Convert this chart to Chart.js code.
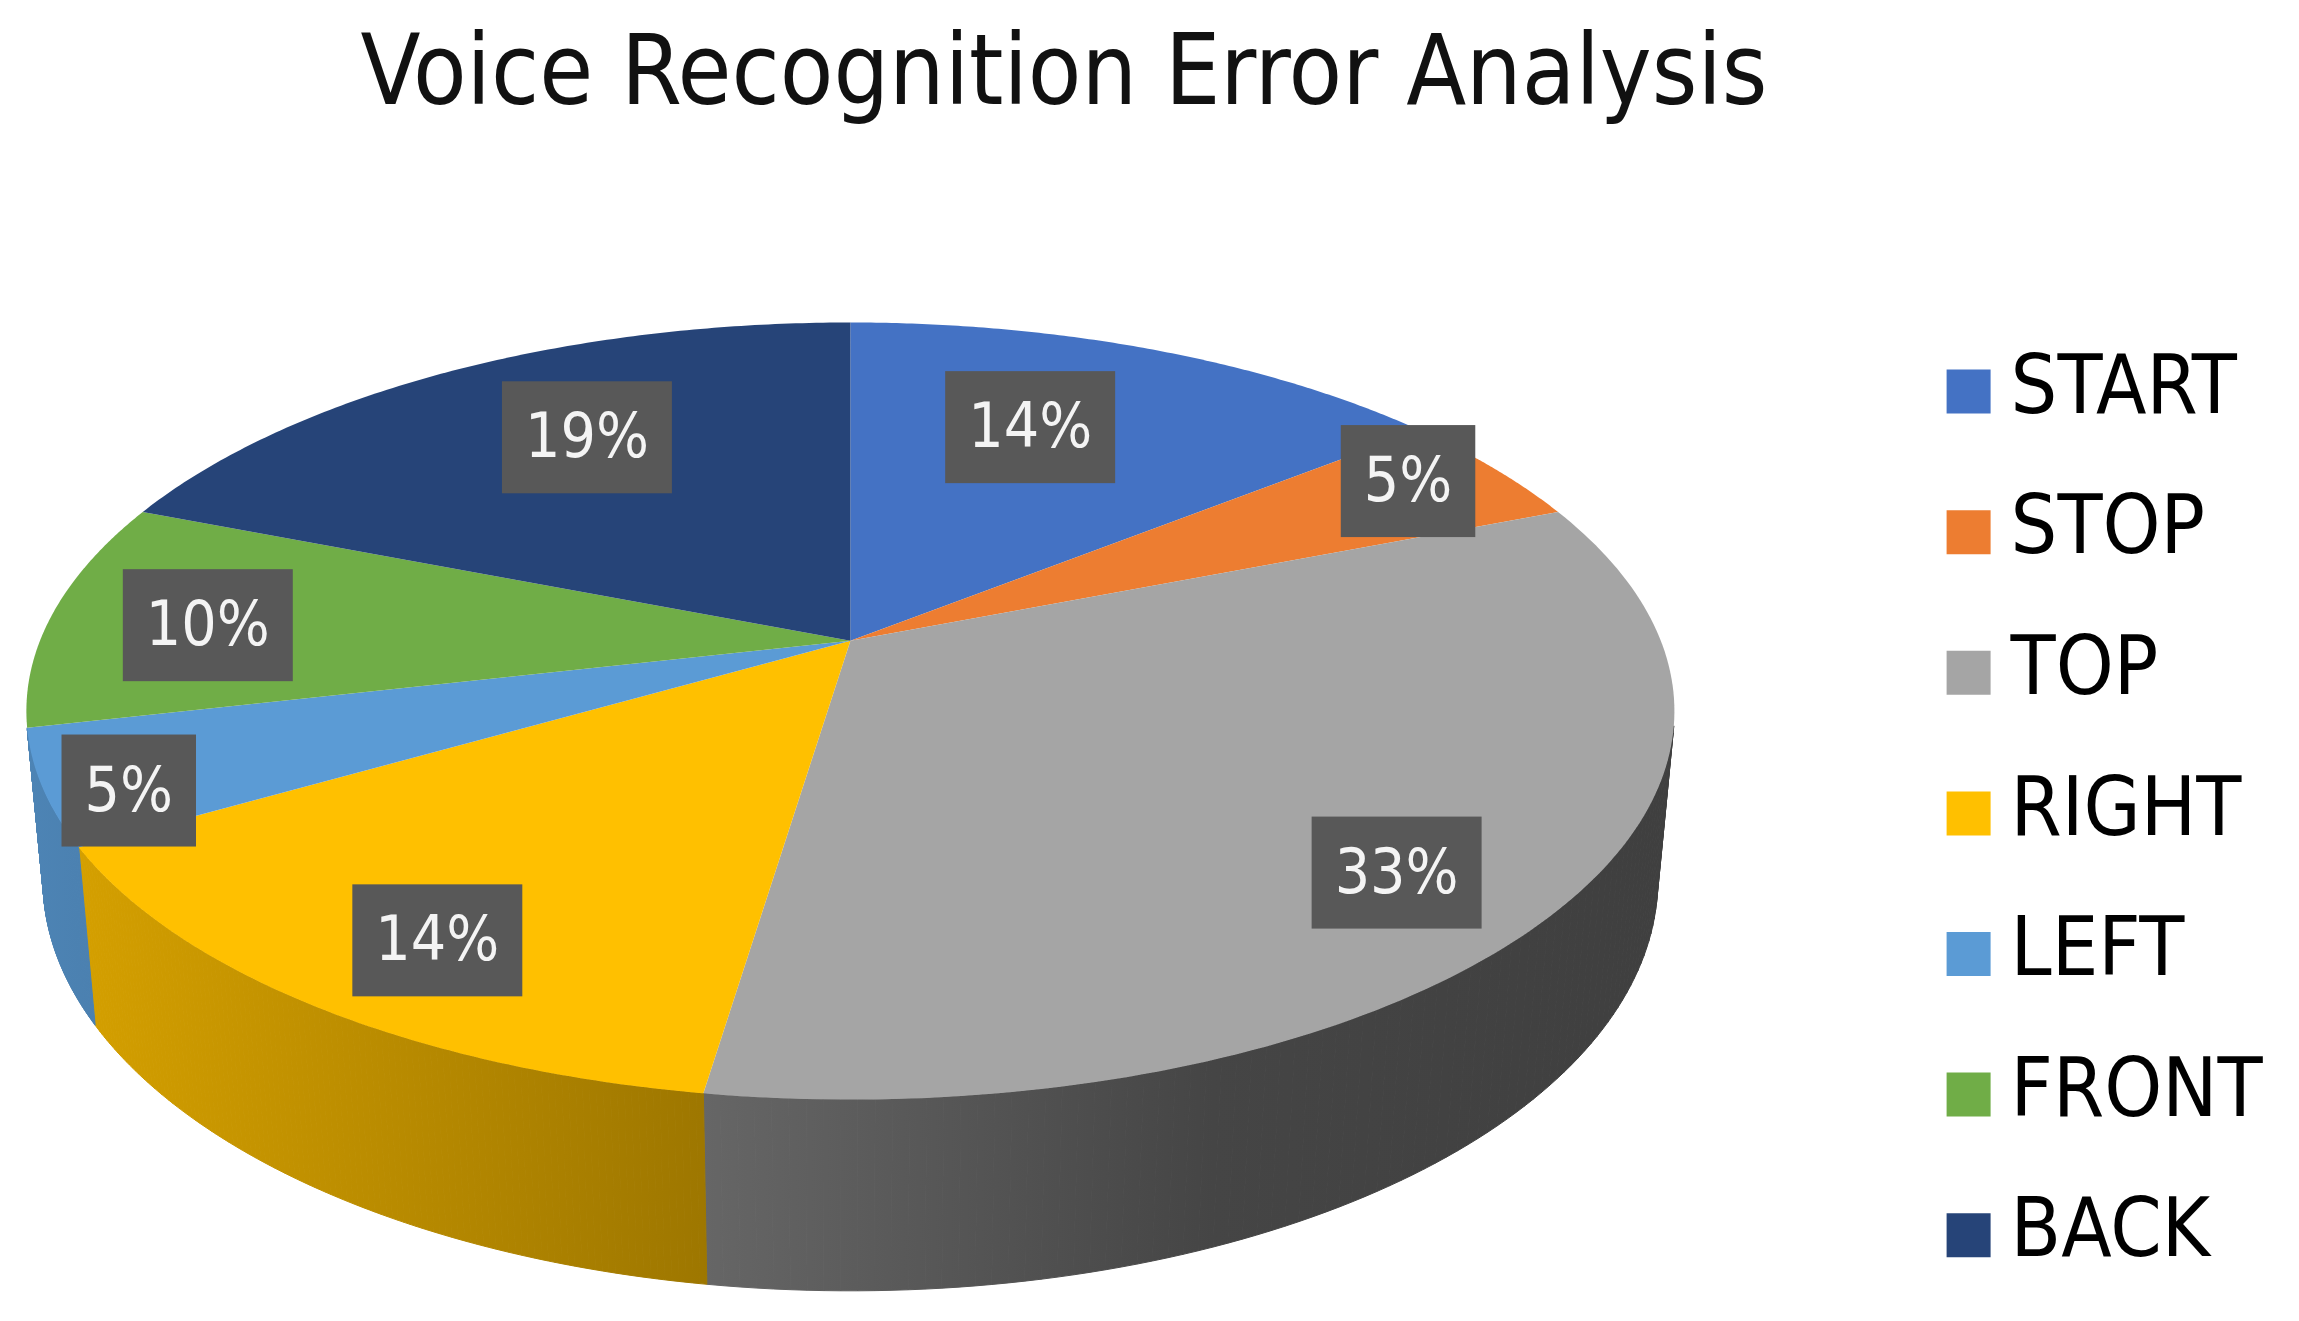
<!DOCTYPE html>
<html>
<head>
<meta charset="utf-8">
<style>
  html, body { margin: 0; background: #ffffff; }
  canvas { display: block; }
</style>
<script src="https://cdn.jsdelivr.net/npm/chart.js@4/dist/chart.umd.min.js"></script>
</head>
<body>
<canvas id="myChart" width="2299" height="1321"></canvas>
<script>
const categories = ['START', 'STOP', 'TOP', 'RIGHT', 'LEFT', 'FRONT', 'BACK'];
const errorShare = [14.29, 4.76, 33.33, 14.29, 4.76, 9.52, 19.05];
const sliceColors = ['#4472c4', '#ed7d31', '#a5a5a5', '#ffc000', '#5b9bd5', '#70ad47', '#264478'];
// where each percent box sits: fraction of the radius, and degrees off the slice middle
const labelDistance = [0.68, 0.876, 0.822, 0.827, 0.91, 0.8, 0.7];
const labelTurn = [-4.4, -1.7, 3.9, -1.7, -2.7, -1.3, 3.3];

const FONT = '"DejaVu Sans Condensed", "Noto Sans"';

// tilted pie: maps a point of the unit circle onto the picture (plane 0 = top face, 1 = bottom)
const tilt = { cx: 850.4, cy: 640.7, a: 810.4, b: 375.8, k: -0.181, d: 0.0199, e: 169.6 };

function project(u, v, plane) {
  const den = 1 + tilt.k * v + tilt.d * plane;
  return {
    x: tilt.cx + tilt.a * u / den,
    y: tilt.cy + (tilt.b * v + tilt.e * plane) / den
  };
}

function pointAt(angle, r, plane) {
  return project(r * Math.cos(angle), r * Math.sin(angle), plane);
}

function shade(hex, f) {
  const n = parseInt(hex.slice(1), 16);
  const c = [n >> 16, (n >> 8) & 255, n & 255].map(v => Math.round(v * f));
  return `rgb(${c[0]},${c[1]},${c[2]})`;
}

const tiltedPie = {
  id: 'tiltedPie',
  afterLayout(chart) {
    // title and legend sit off the canvas centre in the reference
    const title = chart.titleBlock;
    title.left = 0;
    title.right = 2128;
    const legend = chart.legend;
    legend.left = 1909;
    legend.right = 2299;
    legend.top = 292;
    legend.bottom = 3000; // legend wraps to a new column against this, keep it far away
  },
  beforeDatasetDraw(chart, args) {
    const ctx = chart.ctx;
    const arcs = chart.getDatasetMeta(args.index).data;
    const steps = 120;

    // side wall, built from small quads so the silhouette stays straight
    arcs.forEach((arc, i) => {
      const start = arc.startAngle, end = arc.endAngle;
      const grad = ctx.createLinearGradient(tilt.cx - 825, 0, tilt.cx + 825, 0);
      grad.addColorStop(0, shade(sliceColors[i], 0.85));
      grad.addColorStop(0.41, shade(sliceColors[i], 0.62));
      grad.addColorStop(0.72, shade(sliceColors[i], 0.42));
      grad.addColorStop(1, shade(sliceColors[i], 0.38));
      ctx.fillStyle = grad;
      ctx.strokeStyle = grad;
      ctx.lineWidth = 1;
      for (let s = 0; s < steps; s++) {
        const a0 = start + (end - start) * s / steps;
        const a1 = start + (end - start) * (s + 1) / steps;
        if (Math.sin(a0) < 0.2235 && Math.sin(a1) < 0.2235) continue;
        const p0 = pointAt(a0, 1, 0), p1 = pointAt(a1, 1, 0);
        const q0 = pointAt(a0, 1, 1), q1 = pointAt(a1, 1, 1);
        ctx.beginPath();
        ctx.moveTo(p0.x, p0.y);
        ctx.lineTo(p1.x, p1.y);
        ctx.lineTo(q1.x, q1.y);
        ctx.lineTo(q0.x, q0.y);
        ctx.closePath();
        ctx.fill();
        ctx.stroke();
      }
    });

    // top face
    arcs.forEach((arc, i) => {
      const start = arc.startAngle, end = arc.endAngle;
      const apex = project(0, 0, 0);
      ctx.beginPath();
      ctx.moveTo(apex.x, apex.y);
      for (let s = 0; s <= steps; s++) {
        const p = pointAt(start + (end - start) * s / steps, 1, 0);
        ctx.lineTo(p.x, p.y);
      }
      ctx.closePath();
      ctx.fillStyle = sliceColors[i];
      ctx.fill();
    });
    return false;
  },
  afterDatasetsDraw(chart) {
    const ctx = chart.ctx;
    const arcs = chart.getDatasetMeta(0).data;
    const total = errorShare.reduce((a, b) => a + b, 0);
    ctx.save();
    ctx.font = '62px ' + FONT;
    ctx.textAlign = 'center';
    ctx.textBaseline = 'middle';
    arcs.forEach((arc, i) => {
      const mid = (arc.startAngle + arc.endAngle) / 2 + labelTurn[i] * Math.PI / 180;
      const p = pointAt(mid, labelDistance[i], 0);
      const text = Math.round(errorShare[i] / total * 100) + '%';
      const w = ctx.measureText(text).width + 46;
      ctx.fillStyle = '#585858';
      ctx.fillRect(p.x - w / 2, p.y - 56, w, 112);
      ctx.fillStyle = '#f4f4f4';
      ctx.fillText(text, p.x, p.y + 4);
    });
    ctx.restore();
  }
};

new Chart(document.getElementById('myChart'), {
  type: 'pie',
  data: {
    labels: categories,
    datasets: [{ data: errorShare, backgroundColor: sliceColors, borderWidth: 0 }]
  },
  options: {
    responsive: false,
    animation: false,
    plugins: {
      tooltip: { enabled: false },
      title: {
        display: true,
        text: 'Voice Recognition Error Analysis',
        color: '#111111',
        font: { family: FONT, size: 97.5, weight: 'normal' },
        padding: { top: 20, bottom: 20 }
      },
      legend: {
        position: 'right',
        align: 'start',
        labels: {
          color: '#111111',
          font: { family: FONT, size: 82 },
          boxWidth: 2,
          boxHeight: 2,
          padding: 58.6,
          generateLabels(chart) {
            return categories.map((name, i) => ({
              text: name,
              fillStyle: sliceColors[i],
              strokeStyle: sliceColors[i],
              lineWidth: 42,
              index: i
            }));
          }
        }
      }
    }
  },
  plugins: [tiltedPie]
});
</script>
</body>
</html>
